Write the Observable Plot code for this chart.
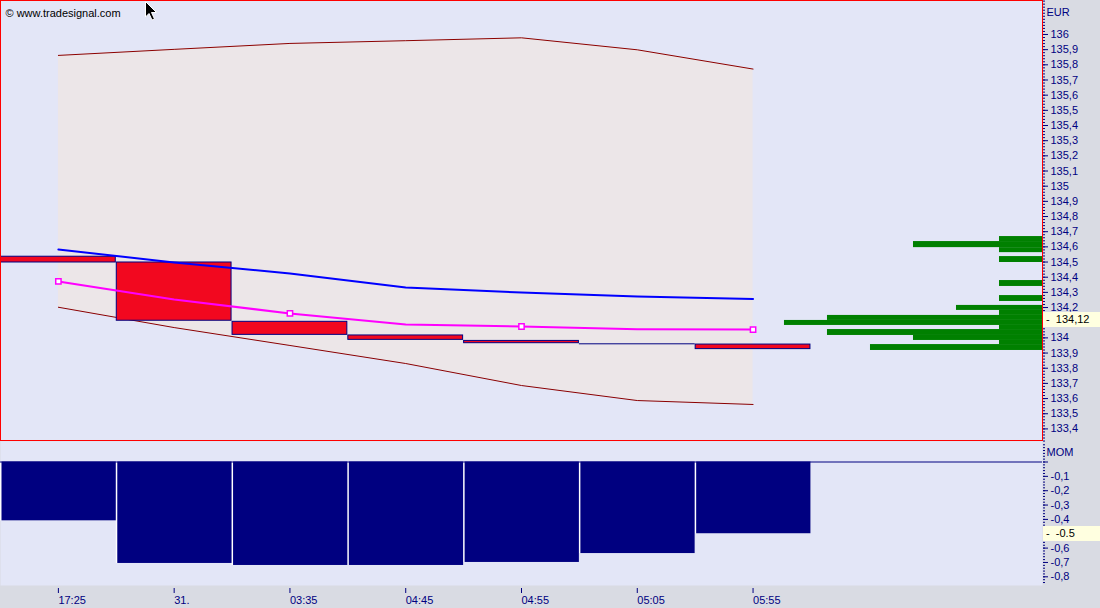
<!DOCTYPE html>
<html><head><meta charset="utf-8">
<script src="https://cdn.jsdelivr.net/npm/d3@7"></script>
<script src="https://cdn.jsdelivr.net/npm/@observablehq/plot@0.6"></script>
<style>
html,body{margin:0;padding:0;background:#d9dbe3;}
#wrap{position:relative;width:1100px;height:608px;overflow:hidden;background:#d9dbe3;font-family:"Liberation Sans",Arial,sans-serif;}
#wrap svg{position:absolute;left:0;overflow:visible;}
.tag{position:absolute;left:1043px;width:57px;height:15px;background:#ffffe0;color:#000;font-size:11px;line-height:15px;white-space:pre;}
</style></head><body><div id="wrap"></div>
<script>
// ---- data ----
const times = ["17:25","31.","03:35","04:45","04:55","05:05","05:55"];
const openP  = [134.535,134.497,134.106,134.016,133.980,133.961,133.956];
const closeP = [134.497,134.113,134.020,133.987,133.965,133.961,133.926];
const avgBlue    = [134.583,134.497,134.425,134.332,134.299,134.273,134.256];
const avgMagenta = [134.372,134.253,134.161,134.088,134.075,134.057,134.055];
const magentaMarkers = [0,2,4,6];
const bandUpper = [135.862,135.902,135.941,135.959,135.978,135.899,135.772];
const bandLower = [134.202,134.068,133.950,133.831,133.686,133.587,133.561];
const momentum = [-0.41,-0.707,-0.721,-0.721,-0.70,-0.638,-0.5];
const profileHigh = [134.668,134.635,134.595,134.536,134.378,134.279,134.214,134.181,134.148,134.115,134.082,134.055,134.016,133.983,133.956];
const profileLow  = [134.635,134.595,134.562,134.497,134.339,134.240,134.181,134.148,134.115,134.082,134.055,134.016,133.983,133.956,133.917];
const profileVol  = [1,3,1,1,1,1,2,1,5,6,1,5,3,1,4];
const priceTicks = [133.4,133.5,133.6,133.7,133.8,133.9,134,134.1,134.2,134.3,134.4,134.5,134.6,134.7,134.8,134.9,135,135.1,135.2,135.3,135.4,135.5,135.6,135.7,135.8,135.9,136];
const momTicks = [-0.1,-0.2,-0.3,-0.4,-0.5,-0.6,-0.7,-0.8];
const lastPrice = 134.12;
const lastMom = -0.5;

// ---- build ----
const NAVY = "#000080", LAV = "#e3e6f7";
const FONT = "Liberation Sans, Arial, sans-serif";
const idx = times.map((_, i) => i);
const candles = idx.map(i => ({i, o: openP[i], c: closeP[i]}));
const profile = profileVol.map((v, k) => ({v, hi: profileHigh[k], lo: profileLow[k]}));
const comma = d => String(+d.toFixed(2)).replace(".", ",");
const near = (a, b) => Math.abs(a - b) < 0.045;
const minorMain = d3.range(133.32, 136.22, 0.02);
const minorMom = d3.range(0.12, -0.86, -0.02);
const style = {background: "transparent", color: NAVY, fontFamily: FONT, fontSize: "11px", overflow: "visible"};
const wrap = document.getElementById("wrap");

const yMain = {domain: [133.317, 136.224], label: null};
const main = Plot.plot({
  width: 1100, height: 441, marginTop: 0, marginBottom: 0, marginLeft: 0, marginRight: 58,
  x: {domain: [-0.5, 8.5], axis: null},
  y: yMain,
  style,
  marks: [
    Plot.frame({fill: LAV}),
    Plot.areaY(idx, {x: i => i, y1: i => bandLower[i], y2: i => bandUpper[i], fill: "#ece6e8"}),
    Plot.lineY(idx, {x: i => i, y: i => bandUpper[i], stroke: "#8b0000", strokeWidth: 1}),
    Plot.lineY(idx, {x: i => i, y: i => bandLower[i], stroke: "#8b0000", strokeWidth: 1}),
    Plot.rect(candles.filter(d => d.o !== d.c), {x1: d => d.i - 0.5, x2: d => d.i + 0.5, y1: "o", y2: "c",
      fill: "#f2081f", stroke: NAVY, strokeWidth: 1, insetLeft: 0.5, insetRight: 0.5}),
    Plot.ruleY(candles.filter(d => d.o === d.c), {x1: d => d.i - 0.5, x2: d => d.i + 0.5, y: "o", stroke: NAVY, strokeWidth: 1}),
    Plot.lineY(idx, {x: i => i, y: i => avgBlue[i], stroke: "#0000ff", strokeWidth: 2}),
    Plot.lineY(idx, {x: i => i, y: i => avgMagenta[i], stroke: "#ff00ff", strokeWidth: 2}),
    Plot.dot(magentaMarkers, {x: i => i, y: i => avgMagenta[i], symbol: "square", r: 3, fill: "white", stroke: "#ff00ff", strokeWidth: 1.5}),
    Plot.axisY({anchor: "right", ticks: minorMain, tickSize: 2, tickFormat: () => "", label: null}),
    Plot.axisY({anchor: "right", ticks: priceTicks, tickSize: 5, tickPadding: 3,
      tickFormat: d => near(d, lastPrice) ? "" : comma(d), label: null}),
    Plot.text(["EUR"], {frameAnchor: "top-right", dx: 4, dy: 12, lineAnchor: "middle", textAnchor: "start", fill: NAVY}),
    Plot.text(["\u00a9 www.tradesignal.com"], {frameAnchor: "top-left", dx: 5, dy: 13, lineAnchor: "middle", textAnchor: "start", fill: "black"})
  ]
});
main.style.top = "0px";
wrap.appendChild(main);

const prof = Plot.plot({
  width: 1100, height: 441, marginTop: 0, marginBottom: 0, marginLeft: 0, marginRight: 58,
  x: {domain: [0, 24.23], reverse: true, axis: null},
  y: {...yMain, axis: null},
  style,
  marks: [
    Plot.rect(profile, {x1: 0, x2: "v", y1: "lo", y2: "hi", fill: "#008000"}),
    Plot.frame({stroke: "#ff0000", strokeWidth: 1, insetBottom: 1})
  ]
});
prof.style.top = "0px";
wrap.appendChild(prof);

const mom = Plot.plot({
  width: 1100, height: 167, marginTop: 0, marginBottom: 23, marginLeft: 0, marginRight: 58,
  x: {domain: [-0.5, 8.5], label: null},
  y: {domain: [-0.8606, 0.1429], label: null},
  style,
  marks: [
    Plot.frame({fill: LAV}),
    Plot.rect(idx, {x1: i => i - 0.5, x2: i => i + 0.5, y1: 0, y2: i => momentum[i], fill: "white"}),
    Plot.rect(idx, {x1: i => i - 0.5, x2: i => i + 0.5, y1: 0, y2: i => momentum[i], fill: NAVY, insetLeft: 1.5}),
    Plot.ruleY([0], {stroke: NAVY, strokeWidth: 1}),
    Plot.axisY({anchor: "right", ticks: minorMom, tickSize: 2, tickFormat: () => "", label: null}),
    Plot.axisY({anchor: "right", ticks: [0, ...momTicks], tickSize: 5, tickPadding: 3,
      tickFormat: d => (d === 0 || near(d, lastMom)) ? "" : comma(d), label: null}),
    Plot.axisX({ticks: idx, tickFormat: i => times[i], tickSize: 5, tickPadding: 3, dy: 3, textAnchor: "start", label: null}),
    Plot.text(["MOM"], {frameAnchor: "top-right", dx: 4, dy: 11, lineAnchor: "middle", textAnchor: "start", fill: NAVY})
  ]
});
mom.style.top = "441px";
wrap.appendChild(mom);

// current value tags
const yS = main.scale("y"), mS = mom.scale("y");
const t1 = document.createElement("div");
t1.className = "tag"; t1.style.top = (yS.apply(lastPrice) - 7.5) + "px";
t1.textContent = " -  " + comma(lastPrice);
wrap.appendChild(t1);
const t2 = document.createElement("div");
t2.className = "tag"; t2.style.top = (441 + mS.apply(lastMom) - 7.5) + "px";
t2.textContent = " -  " + String(lastMom);
wrap.appendChild(t2);

// mouse cursor
const cur = document.createElementNS("http://www.w3.org/2000/svg", "svg");
cur.setAttribute("width", "14"); cur.setAttribute("height", "22");
cur.style.left = "145px"; cur.style.top = "1px";
cur.innerHTML = '<path d="M0.5,0.5 L0.5,16 L4,12.5 L7,19 L9.5,18 L6.5,11.5 L11.5,11.5 Z" fill="black" stroke="white" stroke-width="1"/>';
wrap.appendChild(cur);
</script></body></html>
